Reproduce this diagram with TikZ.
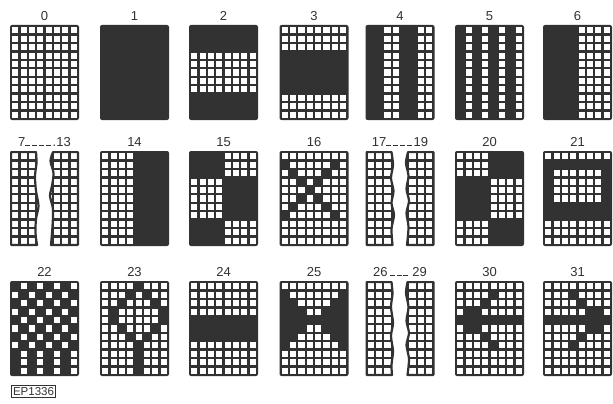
\documentclass[tikz,border=0pt]{standalone}
\usepackage{fontspec}
\setmainfont{Liberation Sans}
\definecolor{dk}{RGB}{50,50,50}
\tikzset{x=1pt,y=-1pt,
  lbl/.style={font=\fontsize{13}{13}\selectfont, text=dk, inner sep=0pt},
  panelbg/.style={fill=dk, rounded corners=2pt},
  edge/.style={draw=dk, line width=2.2pt, line join=round}}
\def\rW{11111111}
\def\rD{00000000}
\newcommand\cellbit[2]{\ifnum#2=1 \fill[white] ({2.2+(#1-1)*8.35},{2.2+(\r-1)*8.436}) rectangle ++(6.15,6.236);\fi}
\def\rowbits#1#2#3#4#5#6#7#8\relax{\cellbit1{#1}\cellbit2{#2}\cellbit3{#3}\cellbit4{#4}\cellbit5{#5}\cellbit6{#6}\cellbit7{#7}\cellbit8{#8}}
\newcommand\panel[5]{\begin{scope}[shift={(#1,#2)}]
  \fill[panelbg] (0,0) rectangle (69,95);
  \foreach \rw [count=\r] in {#4} {\edef\tmprow{\rw}\expandafter\rowbits\tmprow\relax}
  \node[lbl] (#5) at (34.5,-9) {#3};
\end{scope}}
\newcommand\fullgrid{\fill[dk] (0,0) rectangle (69,95);
  \foreach \r in {1,...,11} {\rowbits11111111\relax}}
\newcommand\splitpanel[6]{\begin{scope}[shift={(#1,#2)}]
  \begin{scope}\clip (1.1,1.1) -- plot[smooth] coordinates {#4} -- (1.1,93.9) -- cycle; \fullgrid\end{scope}
  \draw[edge] (1.1,1.1) -- plot[smooth] coordinates {#4} -- (1.1,93.9) -- cycle;
  \begin{scope}\clip (67.9,1.1) -- plot[smooth] coordinates {#5} -- (67.9,93.9) -- cycle; \fullgrid\end{scope}
  \draw[edge] (67.9,1.1) -- plot[smooth] coordinates {#5} -- (67.9,93.9) -- cycle;
  \node[lbl] (#6) at (34.5,-9) {#3};
\end{scope}}
\newcommand\dsh{\rule[0.4pt]{5pt}{1.2pt}\hspace{1.8pt}}
\begin{document}
\begin{tikzpicture}
\fill[white] (0,0) rectangle (613,404);
\useasboundingbox (0,0) rectangle (613,404);
% row 1
\panel{10}{25}{0}{\rW,\rW,\rW,\rW,\rW,\rW,\rW,\rW,\rW,\rW,\rW}{l0}
\panel{100}{25}{1}{\rD,\rD,\rD,\rD,\rD,\rD,\rD,\rD,\rD,\rD,\rD}{l1}
\panel{189}{25}{2}{\rD,\rD,\rD,\rW,\rW,\rW,\rW,\rW,\rD,\rD,\rD}{l2}
\panel{279.5}{25}{3}{\rW,\rW,\rW,\rD,\rD,\rD,\rD,\rD,\rW,\rW,\rW}{l3}
\panel{365.5}{25}{4}{00110011,00110011,00110011,00110011,00110011,00110011,00110011,00110011,00110011,00110011,00110011}{l4}
\panel{455}{25}{5}{01010101,01010101,01010101,01010101,01010101,01010101,01010101,01010101,01010101,01010101,01010101}{l5}
\panel{543}{25}{6}{00001111,00001111,00001111,00001111,00001111,00001111,00001111,00001111,00001111,00001111,00001111}{l6}
% row 2
\splitpanel{10}{151}{7\dsh\dsh\dsh\dsh.13}
  {(26,1.1) (26.5,12) (25,25) (26,40) (28.5,55) (26,68) (25.5,82) (27,93.9)}
  {(43,1.1) (40.5,10) (43.5,22) (42,35) (40,45) (43,58) (42.5,75) (41,93.9)}{l7}
\panel{100}{151}{14}{11110000,11110000,11110000,11110000,11110000,11110000,11110000,11110000,11110000,11110000,11110000}{l14}
\panel{189}{151}{15}{00001111,00001111,00001111,11110000,11110000,11110000,11110000,11110000,00001111,00001111,00001111}{l15}
\panel{279.5}{151}{16}{\rW,01111101,10111011,11010111,11101111,11010111,10111011,01111101,\rW,\rW,\rW}{l16}
\splitpanel{365.5}{151}{17\dsh\dsh\dsh\dsh19}
  {(26,1.1) (27.5,14) (25.5,27) (28,40) (26,52) (28.5,64) (26,78) (27,93.9)}
  {(42.5,1.1) (40.5,12) (43,25) (41,38) (43.5,50) (41,62) (43,76) (41.5,93.9)}{l17}
\panel{455}{151}{20}{11110000,11110000,11110000,00001111,00001111,00001111,00001111,00001111,11110000,11110000,11110000}{l20}
\panel{543}{151}{21}{\rW,\rD,01111110,01111110,01111110,01111110,\rD,\rD,\rW,\rW,\rW}{l21}
% row 3
\panel{10}{281}{22}{01010101,10101010,01010101,10101010,01010101,10101010,01010101,10101010,01010101,01010101,01010101}{l22}
\panel{100}{281}{23}{11110111,11101011,11011101,10111110,10111110,11011101,11101011,11110111,11110111,11110111,11110111}{l23}
\panel{189}{281}{24}{\rW,\rW,\rW,\rW,\rD,\rD,\rD,\rW,\rW,\rW,\rW}{l24}
\panel{279.5}{281}{25}{\rW,01111110,00111100,00011000,\rD,00011000,00111100,01111110,\rW,\rW,\rW}{l25}
\splitpanel{365.5}{281}{26\,\dsh\dsh\dsh\,29}
  {(26,1.1) (27,13) (25.5,26) (27.5,42) (25.5,55) (27.5,70) (26,84) (26.5,93.9)}
  {(42,1.1) (40.5,12) (43,26) (41,40) (43.5,52) (41,64) (43.5,78) (42,93.9)}{l26}
\panel{455}{281}{30}{\rW,11110111,11101111,10011111,\rD,10011111,11101111,11110111,\rW,\rW,\rW}{l30}
\panel{543}{281}{31}{\rW,11101111,11110111,11111001,\rD,11111001,11110111,11101111,\rW,\rW,\rW}{l31}
\node[draw=dk, line width=1pt, inner xsep=1.2pt, inner ysep=2.2pt, font=\fontsize{11.5}{11.5}\selectfont, text=dk] (ep) at (33.5,391.5) {EP1336};
\end{tikzpicture}
\end{document}
